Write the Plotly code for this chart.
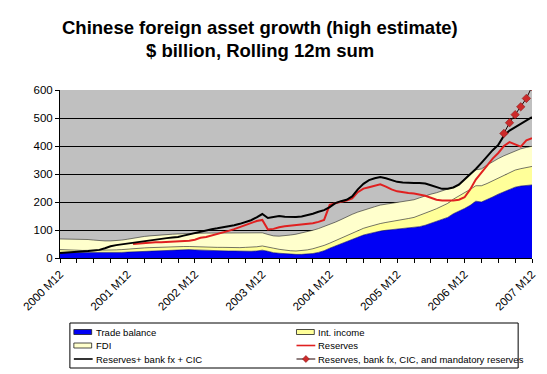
import plotly.graph_objects as go

# ---- data ($ billion, rolling 12m sum) ----
start_year = 2000
months = ["%d M%d" % (start_year + (m + 11) // 12, (m + 11) % 12 + 1) for m in range(85)]
year_labels = ["2000 M12", "2001 M12", "2002 M12", "2003 M12", "2004 M12", "2005 M12", "2006 M12", "2007 M12"]

trade_balance = [
    20, 20, 19, 18, 18, 18, 18, 18, 19, 19, 20, 20, 21,
    22, 23, 24, 25, 26, 27, 28, 29, 30, 30, 30, 29,
    28, 28, 27, 26, 26, 25, 25, 24, 24, 24, 25, 28,
    24, 19, 17, 15, 14, 13, 13, 14, 16, 20, 26, 35,
    43, 50, 58, 66, 74, 82, 87, 92, 96, 99, 101, 103,
    104, 106, 108, 112, 117, 124, 130, 137, 145, 158, 167, 177,
    188, 203, 200, 208, 218, 228, 237, 245, 253, 257, 260, 261,
]
int_income = [
    10, 10, 10, 10, 9, 9, 9, 9, 9, 9, 9, 10, 11,
    11, 12, 12, 12, 12, 12, 11, 11, 11, 11, 11, 11,
    11, 11, 11, 12, 12, 12, 12, 13, 14, 14, 15, 15,
    16, 16, 14, 13, 12, 12, 13, 15, 17, 18, 19, 18,
    19, 21, 22, 22, 23, 24, 25, 26, 27, 28, 29, 30,
    33, 35, 37, 40, 42, 44, 46, 48, 50, 52, 54, 56,
    57, 55, 58, 58, 58, 58, 59, 60, 61, 62, 64, 66,
]
fdi = [
    38, 38, 39, 39, 40, 39, 37, 35, 33, 33, 33, 34, 35,
    38, 39, 41, 42, 43, 44, 45, 45, 45, 46, 47, 49,
    50, 50, 51, 51, 51, 52, 52, 52, 51, 52, 50, 47,
    44, 44, 47, 51, 56, 60, 63, 65, 66, 67, 67, 66,
    66, 66, 67, 68, 67, 65, 65, 65, 66, 65, 65, 64,
    63, 62, 63, 63, 63, 60, 57, 54, 50, 43, 44, 50,
    57, 57, 60, 66, 69, 69, 69, 69, 68, 71, 71, 72,
]
reserves = [None] * 13 + [
    50, 52, 53, 55, 56, 56, 57, 57, 58, 60, 62, 65,
    72, 75, 80, 86, 92, 97, 103, 110, 118, 126, 132, 136,
    102, 104, 110, 113, 115, 117, 119, 121, 124, 129, 136, 190,
    196, 201, 205, 213, 235, 248, 253, 258, 263, 255, 245, 238,
    234, 232, 230, 227, 222, 215, 208, 205, 204, 205, 208, 217,
    245, 280, 305, 330, 355, 375, 400, 414, 405, 398, 420, 428,
]
reserves_bank_cic = [
    18, 19, 20, 22, 23, 25, 27, 29, 35, 42, 46, 49, 51,
    55, 58, 61, 64, 66, 69, 71, 73, 75, 80, 85, 90,
    95, 100, 103, 106, 109, 112, 117, 122, 128, 135, 145, 157,
    143, 146, 150, 147, 146, 146, 148, 152, 158, 165, 171, 182,
    196, 203, 208, 220, 245, 265, 278, 285, 289, 285, 278, 272,
    270, 268, 268, 268, 266, 260, 253, 247, 247, 252, 262, 280,
    298, 318, 340, 364, 385, 404, 437, 455, 467, 478, 490, 503,
]
reserves_mandatory = [None] * 79 + [445, 483, 512, 540, 570, 612]

series_names = ["Trade balance", "Int. income", "FDI", "Reserves",
                "Reserves+ bank fx + CIC", "Reserves, bank fx, CIC, and mandatory reserves"]
title_lines = ["Chinese foreign asset growth (high estimate)", "$ billion, Rolling 12m sum"]

x = list(range(len(months)))
tick_pos = [months.index(lbl) for lbl in year_labels]

FONT = "Liberation Sans, Arial, sans-serif"
BLUE, YEL, PALE, RED = "#0000F5", "#FFFF99", "#FFFFCC", "#E02020"

# plot area in pixels
L, R, T, B = 60, 537, 90, 258
def px(v):
    return (v - L) / (R - L)
def py(v):
    return (B - v) / (B - T)

fig = go.Figure()
fig.add_trace(go.Scatter(x=x, y=trade_balance, name=series_names[0], stackgroup="one",
                         mode="lines", line=dict(color="#000080", width=0.6), fillcolor=BLUE))
fig.add_trace(go.Scatter(x=x, y=int_income, name=series_names[1], stackgroup="one",
                         mode="lines", line=dict(color="#222222", width=0.6), fillcolor=YEL))
fig.add_trace(go.Scatter(x=x, y=fdi, name=series_names[2], stackgroup="one",
                         mode="lines", line=dict(color="#222222", width=0.6), fillcolor=PALE))
fig.add_trace(go.Scatter(x=x, y=reserves, name=series_names[3], mode="lines",
                         line=dict(color=RED, width=2)))
fig.add_trace(go.Scatter(x=x, y=reserves_bank_cic, name=series_names[4], mode="lines",
                         line=dict(color="#000000", width=2)))
fig.add_trace(go.Scatter(x=x, y=reserves_mandatory, name=series_names[5],
                         mode="lines+markers", line=dict(color="#200000", width=1),
                         marker=dict(symbol="diamond", size=6.5, color="#CC2A2A",
                                     line=dict(color="#801010", width=0.5)),
                         cliponaxis=True))

shapes = []
annotations = []
# title (two lines)
for line_text, ypix in zip(title_lines, [27, 51]):
    annotations.append(dict(text="<b>%s</b>" % line_text, x=px(262), y=py(ypix),
                            xref="paper", yref="paper", xanchor="center", yanchor="middle",
                            showarrow=False, font=dict(family=FONT, size=18.5, color="black")))

# legend box drawn by hand (two columns, three rows)
shapes.append(dict(type="rect", xref="paper", yref="paper", x0=px(70), x1=px(523), y0=py(323), y1=py(368),
                   line=dict(color="black", width=1), fillcolor="white", layer="above"))
cols = [74, 299]
rows = [332, 345.5, 359]
positions = [(cols[0], rows[0]), (cols[1], rows[0]), (cols[0], rows[1]),
             (cols[1], rows[1]), (cols[0], rows[2]), (cols[1], rows[2])]
kinds = [("box", BLUE), ("box", YEL), ("box", PALE), ("line", RED), ("line", "black"), ("diamond", "#CC2A2A")]
for (cx, cy), (kind, col), name in zip(positions, kinds, series_names):
    if kind == "box":
        shapes.append(dict(type="rect", xref="paper", yref="paper", x0=px(cx), x1=px(cx + 18),
                           y0=py(cy - 2.5), y1=py(cy + 2.5), fillcolor=col,
                           line=dict(color="#202020", width=0.8), layer="above"))
    else:
        shapes.append(dict(type="line", xref="paper", yref="paper", x0=px(cx), x1=px(cx + 19),
                           y0=py(cy), y1=py(cy), line=dict(color=col if kind == "line" else "#200000",
                                                           width=1.6 if kind == "line" else 1), layer="above"))
        if kind == "diamond":
            mx = cx + 9.5
            path = "M %f %f L %f %f L %f %f L %f %f Z" % (px(mx - 3.5), py(cy), px(mx), py(cy - 3.5),
                                                       px(mx + 3.5), py(cy), px(mx), py(cy + 3.5))
            shapes.append(dict(type="path", xref="paper", yref="paper", path=path, fillcolor=col,
                               line=dict(color="#801010", width=0.5), layer="above"))
    annotations.append(dict(text=name, x=px(cx + 20), y=py(cy), xref="paper", yref="paper",
                            xanchor="left", yanchor="middle", showarrow=False,
                            font=dict(family=FONT, size=9.5, color="black")))

fig.update_layout(
    width=547, height=374,
    margin=dict(l=L, r=547 - R, t=T, b=374 - B),
    paper_bgcolor="white",
    plot_bgcolor="#C0C0C0",
    font=dict(family=FONT, size=11, color="black"),
    showlegend=False,
    shapes=shapes,
    annotations=annotations,
)

fig.update_xaxes(range=[0, 84], tickmode="array", tickvals=tick_pos, ticktext=year_labels,
                 tickangle=-45, ticks="outside", ticklen=4, tickcolor="black",
                 showgrid=False, zeroline=False, showline=True, linecolor="black", linewidth=1,
                 tickfont=dict(family=FONT, size=11.5, color="black"),
                 minor=dict(dtick=3, tick0=0, ticks="outside", ticklen=4, tickcolor="black", showgrid=False))
fig.update_yaxes(range=[0, 600], dtick=100, tick0=0, ticks="outside", ticklen=4, tickcolor="black",
                 showgrid=True, gridcolor="black", gridwidth=1, zeroline=False,
                 showline=True, linecolor="black", linewidth=1,
                 tickfont=dict(family=FONT, size=11.5, color="black"))

fig.write_html("out.html", config={"displayModeBar": False},
               post_script="document.body.style.margin='0px';")
